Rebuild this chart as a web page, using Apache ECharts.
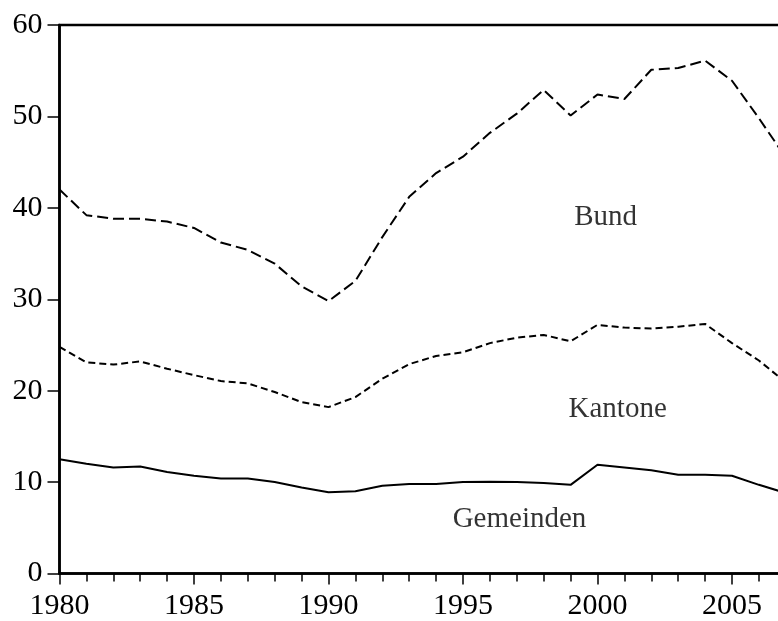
<!DOCTYPE html>
<html>
<head>
<meta charset="utf-8">
<script src="https://cdn.jsdelivr.net/npm/echarts@6/dist/echarts.min.js"></script>
<style>html,body{margin:0;padding:0;background:#fff}#c{width:778px;height:621px}</style>
</head>
<body>
<div id="c"></div>
<script>
const years = [1980,1981,1982,1983,1984,1985,1986,1987,1988,1989,1990,1991,1992,1993,1994,1995,1996,1997,1998,1999,2000,2001,2002,2003,2004,2005,2006,2007];
const bund = [42.0,39.2,38.8,38.8,38.5,37.8,36.2,35.4,33.9,31.4,29.8,32.0,36.8,41.2,43.8,45.6,48.2,50.3,52.9,50.1,52.4,51.9,55.1,55.3,56.1,53.9,49.8,45.5];
const kantone = [24.8,23.1,22.85,23.2,22.4,21.7,21.05,20.8,19.85,18.75,18.2,19.3,21.3,22.9,23.8,24.2,25.2,25.8,26.1,25.4,27.2,26.9,26.8,27.0,27.3,25.2,23.3,20.9];
const gemeinden = [12.5,12.0,11.6,11.7,11.1,10.7,10.4,10.4,10.0,9.4,8.9,9.0,9.6,9.8,9.8,10.0,10.05,10.0,9.9,9.7,11.9,11.6,11.3,10.8,10.8,10.7,9.7,8.8];
const labelNames = ['Bund','Kantone','Gemeinden'];
const labelX = [2000.3, 2000.75, 1997.1];
const labelY = [38.9, 17.9, 5.9];

const FONT = 'Liberation Serif, Times New Roman, serif';
const chart = echarts.init(document.getElementById('c'), null, {renderer:'canvas'});
const pair = arr => years.map((y,i)=>[y,arr[i]]);
const lineSeries = (name, arr, dash) => ({
  name, type:'line', data: pair(arr), showSymbol:false, symbol:'none', silent:true,
  lineStyle:{color:'#000', width:2, type: dash}
});
chart.setOption({
  animation:false,
  backgroundColor:'#fff',
  grid:{left:59.5, top:25, width:807, height:548.5, show:true, borderColor:'#000', borderWidth:2.5,
        containLabel:false, outerBoundsMode:'none'},
  xAxis:{type:'value', min:1980, max:2010, interval:5,
    axisLine:{show:true, lineStyle:{color:'#000', width:2.5}},
    axisTick:{show:true, inside:false, length:11, lineStyle:{color:'#000', width:1.5}},
    minorTick:{show:true, splitNumber:5, length:8, lineStyle:{color:'#000', width:1.5}},
    splitLine:{show:false}, minorSplitLine:{show:false},
    axisLabel:{color:'#000', fontSize:30, fontFamily:FONT, margin:18, showMaxLabel:false, formatter: v=>String(v)}
  },
  yAxis:{type:'value', min:0, max:60, interval:10,
    axisLine:{show:true, lineStyle:{color:'#000', width:2.5}},
    axisTick:{show:true, inside:false, length:12, lineStyle:{color:'#000', width:1.5}},
    splitLine:{show:false},
    axisLabel:{color:'#000', fontSize:30, fontFamily:FONT, margin:17, formatter: v=>String(v)}
  },
  series:[
    lineSeries('Bund', bund, [11,5]),
    lineSeries('Kantone', kantone, [7,4]),
    lineSeries('Gemeinden', gemeinden, 'solid'),
    {type:'scatter', silent:true, symbolSize:0,
     data: labelNames.map((n,i)=>({value:[labelX[i],labelY[i]], name:n})),
     label:{show:true, position:'inside', formatter: p=>p.name, color:'#000', fontSize:29, fontFamily:FONT}
    }
  ]
});
</script>
</body>
</html>
